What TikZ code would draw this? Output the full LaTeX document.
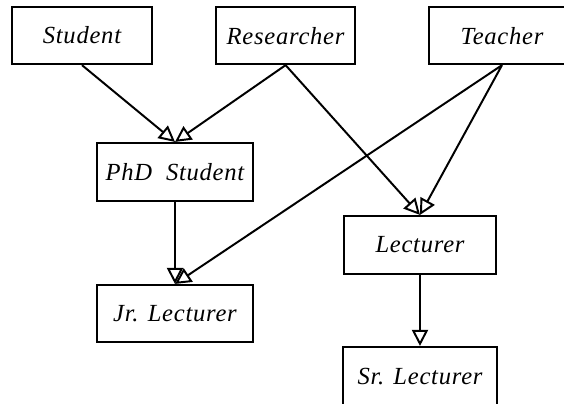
\documentclass[tikz,border=0pt]{standalone}
\usepackage{fontspec}
\setmainfont{Liberation Serif}[LetterSpace=3]
\usetikzlibrary{arrows.meta}

\begin{document}
\begin{tikzpicture}[
		every node/.style={rectangle, draw, line width=1.5pt, inner sep=0pt,
			minimum height=1.425cm, font=\fontsize{17.5}{20}\selectfont\itshape},
		isa/.style={line width=1.4pt,
			-{Triangle[open, length=0.4cm, width=0.4cm, line width=1.4pt]}}
	]
  \useasboundingbox (0cm, 0cm) rectangle (14.1cm, 10.1cm);
  \node (student) [minimum width=3.5cm] at (2.05cm, 9.21cm) {Student};
  \node (researcher) [minimum width=3.475cm] at (7.14cm, 9.21cm) {Researcher};
  \node (teacher) [minimum width=3.65cm] at (12.55cm, 9.21cm) {Teacher};
  \node (phd) [minimum width=3.9cm, minimum height=1.45cm] at (4.375cm, 5.8cm) {PhD\ \ Student};
  \node (jr) [minimum width=3.9cm] at (4.375cm, 2.2625cm) {Jr. Lecturer};
  \node (lect) [minimum width=3.8cm, minimum height=1.45cm] at (10.5cm, 3.975cm) {Lecturer};
  \node (sr) [minimum width=3.85cm, minimum height=1.475cm] at (10.5cm, 0.6875cm) {Sr. Lecturer};
  \draw[isa] (student.south) -- (phd.north);
  \draw[isa] (researcher.south) -- (phd.north);
  \draw[isa] (researcher.south) -- (lect.north);
  \draw[isa] (teacher.south) -- (lect.north);
  \draw[isa] (teacher.south) -- (jr.north);
  \draw[isa] (phd.south) -- (jr.north);
  \draw[isa] (lect.south) -- (sr.north);
\end{tikzpicture}
\end{document}
